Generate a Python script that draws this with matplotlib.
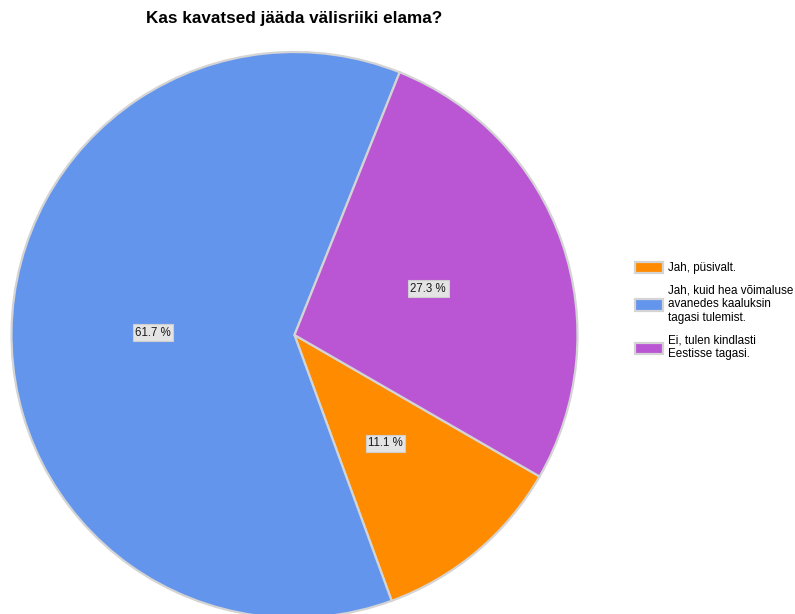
import matplotlib
matplotlib.use("Agg")
import matplotlib.pyplot as plt

plt.rcParams['font.family'] = ['Liberation Sans', 'DejaVu Sans']

title = "Kas kavatsed jääda välisriiki elama?"
categories = [
    "Jah, püsivalt.",
    "Jah, kuid hea võimaluse\navanedes kaaluksin\ntagasi tulemist.",
    "Ei, tulen kindlasti\nEestisse tagasi.",
]
values = [11.1, 61.7, 27.3]
colors = ["#FF8C00", "#6495ED", "#BA55D3"]

W, H = 795, 614
fig = plt.figure(figsize=(W / 100, H / 100), dpi=100)

# pie axes: centre (294.5, 335) px, radius 283 px
cx, cy, r = 294.5, 335, 283
ax = fig.add_axes([(cx - r) / W, (H - cy - r) / H, 2 * r / W, 2 * r / H])

value_iter = iter(values)
wedges, texts, autotexts = ax.pie(
    values,
    colors=colors,
    startangle=-30,
    counterclock=False,
    radius=1.0,
    autopct=lambda p: f"{next(value_iter):.1f} %",
    pctdistance=0.5,
    wedgeprops=dict(edgecolor="#D4D4D4", linewidth=1.6),
    textprops=dict(fontsize=8.3, color="#1A1A1A"),
)
for t in autotexts:
    t.set_bbox(dict(boxstyle="square,pad=0.22", facecolor="#E4E4E4",
                    edgecolor="#CFCFCF", linewidth=0.8))
ax.set_xlim(-1, 1)
ax.set_ylim(-1, 1)
ax.set_aspect("equal")
ax.axis("off")

fig.text(cx / W, 1 - 18.5 / H, title, ha="center", va="center",
         fontsize=12.3, fontweight="bold", color="#000000")

fig.legend(
    wedges, categories,
    loc="center left",
    bbox_to_anchor=(635 / W, 1 - 311 / H),
    frameon=False,
    fontsize=8.4,
    handlelength=2.4,
    handleheight=1.1,
    handletextpad=0.45,
    labelspacing=0.9,
    borderpad=0,
    borderaxespad=0,
)

fig.savefig("out.png", dpi=100)
